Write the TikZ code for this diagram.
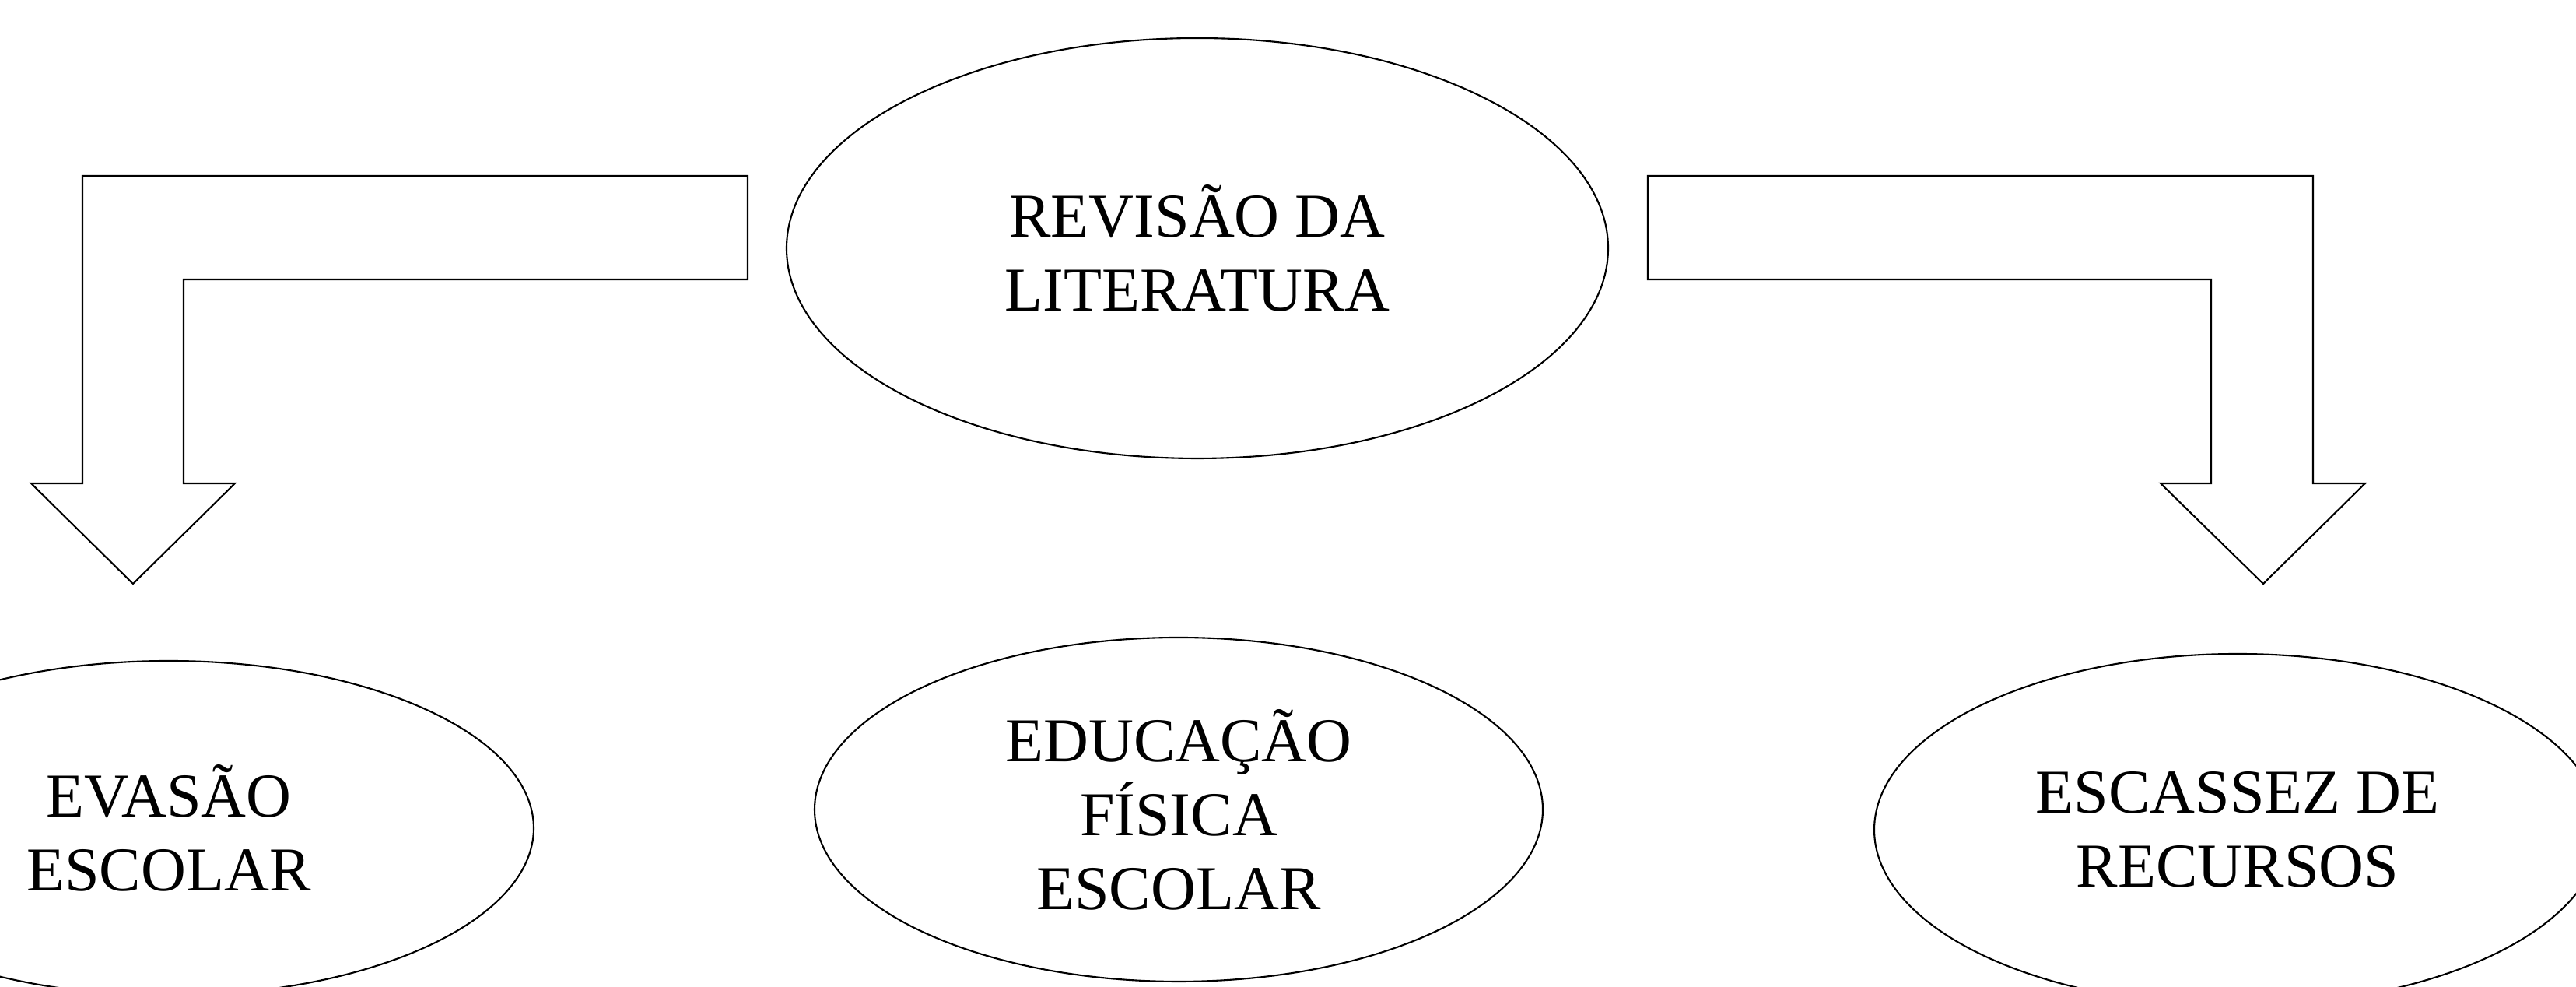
\documentclass[tikz,border=0pt]{standalone}
\usepackage{fontspec}
\setmainfont{Liberation Serif}
\usetikzlibrary{shapes.geometric}

\begin{document}
\begin{tikzpicture}
[line width=0.6pt,
 tema/.style={draw, ellipse, inner sep=0pt, align=center,
   font=\fontsize{22.8}{27}\selectfont}]

\useasboundingbox (0,0) rectangle (33.11,12.68);
\clip (0,0) rectangle (33.11,12.68);

\node[tema, minimum width=10.56cm, minimum height=5.40cm] (R) at (15.39,9.49) {REVISÃO DA\\LITERATURA};

\node[tema, minimum width=9.38cm, minimum height=4.30cm] (E) at (2.17,2.04) {EVASÃO\\ESCOLAR};

\node[tema, minimum width=9.36cm, minimum height=4.42cm] (F) at (15.15,2.28) {EDUCAÇÃO\\FÍSICA\\ESCOLAR};

\node[tema, minimum width=9.34cm, minimum height=4.52cm] (S) at (28.76,2.02) {ESCASSEZ DE\\RECURSOS};

% setas
\draw (9.61,10.42) -- (1.06,10.42) -- (1.06,6.47) -- (0.40,6.47) -- (1.71,5.18)
  -- (3.02,6.47) -- (2.36,6.47) -- (2.36,9.09) -- (9.61,9.09) -- cycle;
\draw (21.18,10.42) -- (29.73,10.42) -- (29.73,6.47) -- (30.40,6.47) -- (29.09,5.18)
  -- (27.77,6.47) -- (28.42,6.47) -- (28.42,9.09) -- (21.18,9.09) -- cycle;

\end{tikzpicture}
\end{document}
